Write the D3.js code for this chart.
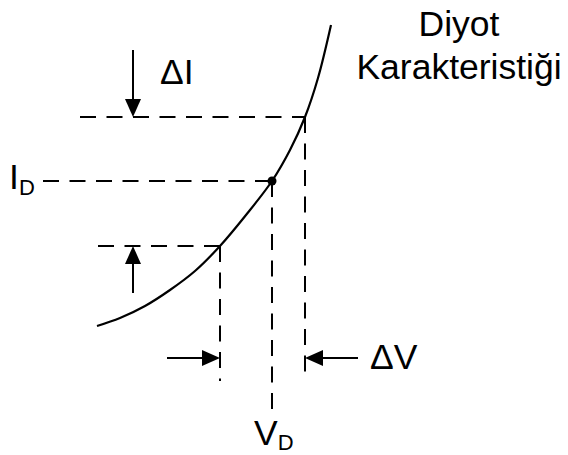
<!DOCTYPE html>
<html>
<head>
<meta charset="utf-8">
<script src="https://cdn.jsdelivr.net/npm/d3@7"></script>
<style>
  html, body { margin: 0; padding: 0; background: #fff; }
  svg { display: block; }
  text { font-family: "Liberation Sans", Arial, sans-serif; fill: #000; }
</style>
</head>
<body>
<div id="chart"></div>
<script>
// Diode characteristic: small-signal slope around the operating point

// curve samples (voltage units, current units)
const curveV = [57, 80, 105, 130, 155, 180, 206, 232, 250, 265, 278, 291];
const curveI = [114, 122, 134, 150, 169, 194, 225, 259, 290, 323, 362, 415];

// operating point and the two neighbouring points
const opPoint = { v: 232, i: 259 };
const lowPoint = { v: 180, i: 194 };
const highPoint = { v: 265, i: 323 };

// where the guide lines start / end
const idLineStart = 3;      // I_D guide starts here (v)
const highLineStart = 40;   // upper ΔI guide (v)
const lowLineStart = 58;    // lower ΔI guide (v)
const vLineEnds = [59, 30, 67]; // low, op, high vertical guides end (i)

// arrows
const dIarrowV = 93;
const dIarrowTop = 390;
const dIarrowBottom = 147;
const dVarrowI = 82;
const dVarrowLeft = 127;
const dVarrowRight = 318;

const labels = {
  title1: "Diyot",
  title2: "Karakteristiği",
  dI: "ΔI",
  dV: "ΔV"
};

const width = 568, height = 455;

const x = d3.scaleLinear().domain([0, 300]).range([40, 340]);
const y = d3.scaleLinear().domain([0, 400]).range([440, 40]);

const svg = d3.select("#chart").append("svg")
  .attr("width", width)
  .attr("height", height);

const dash = "16,10.5";

// dashed guides
const guides = svg.append("g")
  .attr("stroke", "#000")
  .attr("stroke-width", 2)
  .attr("stroke-dasharray", dash)
  .attr("fill", "none");

const hGuides = [
  { v0: highLineStart, v1: highPoint.v, i: highPoint.i },
  { v0: idLineStart, v1: opPoint.v, i: opPoint.i },
  { v0: lowLineStart, v1: lowPoint.v, i: lowPoint.i }
];
guides.selectAll("line.h")
  .data(hGuides)
  .join("line")
  .attr("class", "h")
  .attr("x1", d => x(d.v0)).attr("x2", d => x(d.v1))
  .attr("y1", d => y(d.i)).attr("y2", d => y(d.i));

const vGuides = [lowPoint, opPoint, highPoint].map((p, k) => ({ v: p.v, i0: p.i, i1: vLineEnds[k] }));
guides.selectAll("line.v")
  .data(vGuides)
  .join("line")
  .attr("class", "v")
  .attr("x1", d => x(d.v)).attr("x2", d => x(d.v))
  .attr("y1", d => y(d.i0)).attr("y2", d => y(d.i1));

// curve
const line = d3.line()
  .x(d => x(d[0]))
  .y(d => y(d[1]))
  .curve(d3.curveCatmullRom);

svg.append("path")
  .datum(d3.zip(curveV, curveI))
  .attr("d", line)
  .attr("fill", "none")
  .attr("stroke", "#000")
  .attr("stroke-width", 2.2);

// operating point dot
svg.append("circle")
  .attr("cx", x(opPoint.v))
  .attr("cy", y(opPoint.i))
  .attr("r", 4.5)
  .attr("fill", "#000");

// arrows
const arrows = [
  { x1: x(dIarrowV), y1: y(dIarrowTop), x2: x(dIarrowV), y2: y(highPoint.i) },
  { x1: x(dIarrowV), y1: y(dIarrowBottom), x2: x(dIarrowV), y2: y(lowPoint.i) },
  { x1: x(dVarrowLeft), y1: y(dVarrowI), x2: x(lowPoint.v), y2: y(dVarrowI) },
  { x1: x(dVarrowRight), y1: y(dVarrowI), x2: x(highPoint.v), y2: y(dVarrowI) }
];
const headLen = 18, headHalf = 8;

const ag = svg.append("g");
arrows.forEach(a => {
  const ang = Math.atan2(a.y2 - a.y1, a.x2 - a.x1);
  const bx = a.x2 - headLen * Math.cos(ang);
  const by = a.y2 - headLen * Math.sin(ang);
  ag.append("line")
    .attr("x1", a.x1).attr("y1", a.y1)
    .attr("x2", bx).attr("y2", by)
    .attr("stroke", "#000").attr("stroke-width", 2);
  const px = -Math.sin(ang) * headHalf, py = Math.cos(ang) * headHalf;
  ag.append("path")
    .attr("d", `M${a.x2},${a.y2}L${bx + px},${by + py}L${bx - px},${by - py}Z`)
    .attr("fill", "#000");
});

// labels
const big = 35.5, small = 22;

svg.append("text").attr("x", 459).attr("y", 36)
  .attr("text-anchor", "middle").attr("font-size", big).text(labels.title1);
svg.append("text").attr("x", 459).attr("y", 79)
  .attr("text-anchor", "middle").attr("font-size", big).text(labels.title2);

svg.append("text").attr("x", 160).attr("y", 84)
  .attr("font-size", big).text(labels.dI);

svg.append("text").attr("x", 370).attr("y", 369)
  .attr("font-size", big).text(labels.dV);

const id = svg.append("text").attr("x", 9).attr("y", 189).attr("font-size", big);
id.append("tspan").text("I");
id.append("tspan").attr("font-size", small).attr("dy", 6).text("D");

const vd = svg.append("text").attr("x", 254).attr("y", 445).attr("font-size", big);
vd.append("tspan").text("V");
vd.append("tspan").attr("font-size", small).attr("dy", 5).text("D");
</script>
</body>
</html>
